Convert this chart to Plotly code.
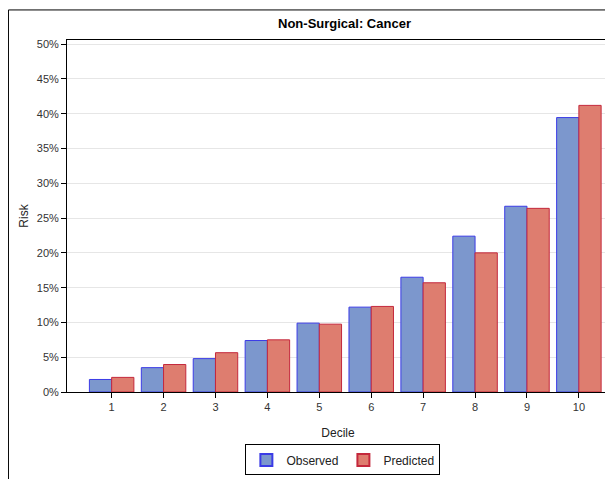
import plotly.graph_objects as go

deciles = [1, 2, 3, 4, 5, 6, 7, 8, 9, 10]
observed = [1.8, 3.5, 4.8, 7.4, 9.9, 12.2, 16.5, 22.4, 26.7, 39.45]
predicted = [2.1, 3.95, 5.65, 7.5, 9.75, 12.3, 15.7, 20.0, 26.4, 41.2]
y_ticks = [0, 5, 10, 15, 20, 25, 30, 35, 40, 45, 50]

FONT = "Liberation Sans, Arial, sans-serif"

fig = go.Figure()
fig.add_trace(go.Bar(
    x=deciles, y=observed, name="Observed",
    marker=dict(color="#7C97CD", line=dict(color="#3B3BE6", width=1)),
))
fig.add_trace(go.Bar(
    x=deciles, y=predicted, name="Predicted",
    marker=dict(color="#DE7D6F", line=dict(color="#C4283C", width=1)),
))

fig.update_layout(
    width=605, height=471,
    margin=dict(l=59, r=4, t=32, b=76),
    paper_bgcolor="white", plot_bgcolor="white",
    barmode="group", bargap=0.143, bargroupgap=0,
    font=dict(family=FONT, size=11, color="#333333"),
    title=dict(text="<b>Non-Surgical: Cancer</b>", x=0.512, xref="paper",
               xanchor="center",
               y=1, yref="container", yanchor="top", pad=dict(t=11),
               font=dict(family=FONT, size=13, color="black")),
    showlegend=True,
    legend=dict(orientation="h", x=0.509, xanchor="center", xref="paper",
                y=-0.149, yanchor="top", yref="paper",
                bordercolor="black", borderwidth=1,
                font=dict(family=FONT, size=12, color="#222222"),
                itemsizing="constant", itemwidth=30,
                tracegroupgap=0),
    xaxis=dict(
        range=[0.14, 10.58], tickmode="array", tickvals=deciles,
        ticktext=[str(d) for d in deciles],
        showline=True, linecolor="black", linewidth=1, mirror=True,
        ticks="outside", ticklen=5, tickcolor="black",
        showgrid=False, zeroline=False,
        title=dict(text="Decile", standoff=16,
                   font=dict(family=FONT, size=12, color="#222222")),
    ),
    yaxis=dict(
        range=[0, 50.6], tickmode="array", tickvals=y_ticks,
        ticktext=[f"{v}%" for v in y_ticks],
        showline=True, linecolor="black", linewidth=1,
        ticks="outside", ticklen=5, tickcolor="black",
        showgrid=True, gridcolor="#E6E6E6", gridwidth=1,
        zeroline=False,
        title=dict(text="Risk", standoff=5,
                   font=dict(family=FONT, size=12, color="#222222")),
    ),
    shapes=[
        dict(type="line", xref="paper", yref="paper", x0=1, x1=1, y0=0, y1=1,
             line=dict(color="#777777", width=2)),
        dict(type="line", xref="paper", yref="paper", x0=-0.108, x1=1.02,
             y0=1.0854, y1=1.0854, line=dict(color="black", width=1)),
        dict(type="line", xref="paper", yref="paper", x0=-0.108, x1=-0.108,
             y0=1.0854, y1=-0.25, line=dict(color="black", width=1)),
    ],
)

fig.write_html("out.html", config={"displayModeBar": False})
